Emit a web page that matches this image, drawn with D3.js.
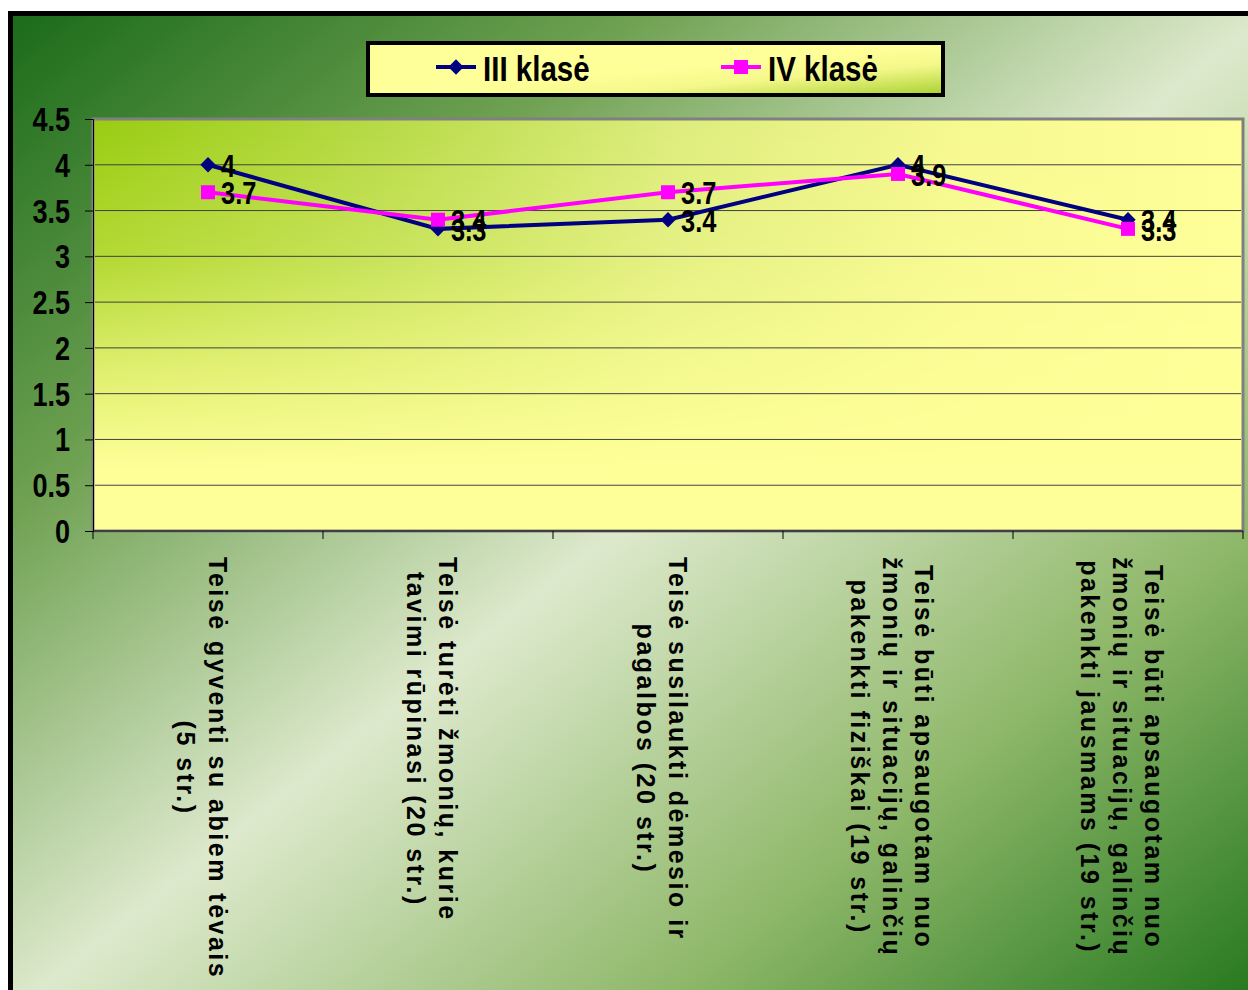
<!DOCTYPE html>
<html><head><meta charset="utf-8">
<script src="https://cdn.jsdelivr.net/npm/d3@7"></script>
<style>body{margin:0;background:#fff;} svg{display:block;}</style>
</head><body>
<script>
const categories = [
  "Teisė gyventi su abiem tėvais\n(5 str.)",
  "Teisė turėti žmonių, kurie\ntavimi rūpinasi (20 str.)",
  "Teisė susilaukti dėmesio ir\npagalbos (20 str.)",
  "Teisė būti apsaugotam nuo\nžmonių ir situacijų, galinčių\npakenkti fiziškai (19 str.)",
  "Teisė būti apsaugotam nuo\nžmonių ir situacijų, galinčių\npakenkti jausmams (19 str.)"
];
const seriesNames = ["III klasė", "IV klasė"];
const valuesIII = [4, 3.3, 3.4, 4, 3.4];
const valuesIV = [3.7, 3.4, 3.7, 3.9, 3.3];
const yTicks = [0, 0.5, 1, 1.5, 2, 2.5, 3, 3.5, 4, 4.5];

const W = 1248, H = 990;
const sans = "'Liberation Sans',Arial,sans-serif";
const NARROW = 0.82;

const svg = d3.select("body").append("svg").attr("width", W).attr("height", H);
const defs = svg.append("defs");

const bg = defs.append("linearGradient").attr("id","bg").attr("x1",0).attr("y1",0).attr("x2",1).attr("y2",1);
bg.append("stop").attr("offset","0").attr("stop-color","#1a6b1a");
bg.append("stop").attr("offset","0.25").attr("stop-color","#6fa152");
bg.append("stop").attr("offset","0.5").attr("stop-color","#dde9cc");
bg.append("stop").attr("offset","0.75").attr("stop-color","#8fb86a");
bg.append("stop").attr("offset","1").attr("stop-color","#1f741a");

const ph = defs.append("linearGradient").attr("id","ph").attr("x1",0).attr("y1",0).attr("x2",1).attr("y2",0);
ph.append("stop").attr("offset","0").attr("stop-color","#99cc11");
ph.append("stop").attr("offset","0.25").attr("stop-color","#b6da46");
ph.append("stop").attr("offset","0.5").attr("stop-color","#dcec7c");
ph.append("stop").attr("offset","0.75").attr("stop-color","#f6f890");
ph.append("stop").attr("offset","1").attr("stop-color","#ffff99");

const pv = defs.append("linearGradient").attr("id","pv").attr("x1",0).attr("y1",0).attr("x2",0).attr("y2",1);
pv.append("stop").attr("offset","0").attr("stop-color","#fff");
pv.append("stop").attr("offset","0.35").attr("stop-color","#bbb");
pv.append("stop").attr("offset","0.6").attr("stop-color","#555");
pv.append("stop").attr("offset","0.85").attr("stop-color","#000");
pv.append("stop").attr("offset","1").attr("stop-color","#000");

const lg = defs.append("linearGradient").attr("id","lg").attr("x1",0).attr("y1",0).attr("x2",1).attr("y2",1);
lg.append("stop").attr("offset","0").attr("stop-color","#ffff99");
lg.append("stop").attr("offset","0.5").attr("stop-color","#ffff99");
lg.append("stop").attr("offset","0.7").attr("stop-color","#f4f88a");
lg.append("stop").attr("offset","1").attr("stop-color","#a8d030");

// outer frame
svg.append("rect").attr("x",10.5).attr("y",13.5).attr("width",1260).attr("height",1000)
  .attr("fill","url(#bg)").attr("stroke","#000").attr("stroke-width",5);

const x = d3.scaleBand().domain(categories).range([93, 1243]);
const y = d3.scaleLinear().domain([0, 4.5]).range([531, 119]);

// plot area
const pa = {x:93, y:y(4.5), w:1150, h:y(0)-y(4.5)};
const mask = defs.append("mask").attr("id","pm").attr("maskUnits","userSpaceOnUse")
  .attr("x",pa.x).attr("y",pa.y).attr("width",pa.w).attr("height",pa.h);
mask.append("rect").attr("x",pa.x).attr("y",pa.y).attr("width",pa.w).attr("height",pa.h).attr("fill","url(#pv)");
svg.append("rect").attr("x",pa.x).attr("y",pa.y).attr("width",pa.w).attr("height",pa.h).attr("fill","#ffff99");
svg.append("rect").attr("x",pa.x).attr("y",pa.y).attr("width",pa.w).attr("height",pa.h).attr("fill","url(#ph)").attr("mask","url(#pm)");
svg.append("rect").attr("x",pa.x).attr("y",pa.y).attr("width",pa.w).attr("height",pa.h)
  .attr("fill","none").attr("stroke","#808080").attr("stroke-width",3);

// gridlines
svg.append("g").selectAll("line").data(yTicks.filter(d=>d>0 && d<4.5)).join("line")
  .attr("x1",95).attr("x2",1241).attr("y1",d=>y(d)).attr("y2",d=>y(d))
  .attr("stroke","#404040").attr("stroke-width",1);

// y axis
const yAxis = svg.append("g").attr("transform","translate(93,0)")
  .call(d3.axisLeft(y).tickValues(yTicks).tickSize(8).tickFormat(d3.format("")));
yAxis.select(".domain").attr("stroke","#000");
yAxis.selectAll(".tick line").attr("stroke","#000");
yAxis.selectAll(".tick text")
  .attr("x",0).attr("dy","0.35em")
  .attr("transform",`translate(-23,0) scale(${NARROW},1)`)
  .attr("font-family",sans).attr("font-weight","bold").attr("font-size",33).attr("fill","#000");

// x axis
svg.append("line").attr("x1",93).attr("x2",1243).attr("y1",y(0)).attr("y2",y(0)).attr("stroke","#000");
const bounds = categories.map(c=>x(c)).concat([x.range()[1]]);
svg.append("g").selectAll("line").data(bounds).join("line")
  .attr("x1",d=>d).attr("x2",d=>d).attr("y1",y(0)).attr("y2",y(0)+8).attr("stroke","#000");

// x labels
categories.forEach(c=>{
  const lines = c.split("\n");
  const n = lines.length;
  const g = svg.append("g").attr("transform",`translate(${x(c)+x.bandwidth()/2-6},557) rotate(90)`);
  const texts = g.selectAll("text").data(lines).join("text")
    .attr("font-family",sans).attr("font-weight","bold").attr("font-size",25)
    .attr("letter-spacing","2.5px").attr("fill","#000")
    .attr("text-anchor","middle")
    .attr("y",(d,i)=>(i-(n-1)/2)*32).attr("dy","0.35em")
    .text(d=>d);
  let L = 0; texts.each(function(){ L = Math.max(L, this.getComputedTextLength()); });
  texts.attr("x", L/2);
});

const cx = c => x(c) + x.bandwidth()/2;
const line = d3.line().x((d,i)=>cx(categories[i])).y(d=>y(d));

// series III
svg.append("path").datum(valuesIII).attr("d",line).attr("fill","none").attr("stroke","#000080").attr("stroke-width",4);
svg.append("g").selectAll("path").data(valuesIII).join("path")
  .attr("d",d3.symbol(d3.symbolDiamond2, 150))
  .attr("transform",(d,i)=>`translate(${cx(categories[i])},${y(d)})`).attr("fill","#000080");
// series IV
svg.append("path").datum(valuesIV).attr("d",line).attr("fill","none").attr("stroke","#ff00ff").attr("stroke-width",4);
svg.append("g").selectAll("rect").data(valuesIV).join("rect")
  .attr("x",(d,i)=>cx(categories[i])-7).attr("y",d=>y(d)-7).attr("width",14).attr("height",14).attr("fill","#ff00ff");

// data labels
[valuesIII, valuesIV].forEach(vals=>{
  svg.append("g").selectAll("text").data(vals).join("text")
    .attr("transform",(d,i)=>`translate(${cx(categories[i])+13},${y(d)+1}) scale(${NARROW},1)`)
    .attr("dy","0.35em")
    .attr("font-family",sans).attr("font-weight","bold").attr("font-size",31).attr("fill","#000")
    .text(d=>d3.format("")(d));
});

// legend
svg.append("rect").attr("x",368).attr("y",43).attr("width",575).attr("height",52)
  .attr("fill","url(#lg)").attr("stroke","#000").attr("stroke-width",4);
const leg = [
  {name: seriesNames[0], color:"#000080", x0:436, sym:"d"},
  {name: seriesNames[1], color:"#ff00ff", x0:721, sym:"s"}
];
leg.forEach(l=>{
  svg.append("line").attr("x1",l.x0).attr("x2",l.x0+40).attr("y1",67).attr("y2",67).attr("stroke",l.color).attr("stroke-width",4);
  if(l.sym==="d"){
    svg.append("path").attr("d",d3.symbol(d3.symbolDiamond2,150)).attr("transform",`translate(${l.x0+20},67)`).attr("fill",l.color);
  } else {
    svg.append("rect").attr("x",l.x0+13).attr("y",60).attr("width",14).attr("height",14).attr("fill",l.color);
  }
  svg.append("text").attr("transform",`translate(${l.x0+47},68) scale(${NARROW},1)`).attr("dy","0.35em")
    .attr("font-family",sans).attr("font-weight","bold").attr("font-size",36).attr("fill","#000").text(l.name);
});
</script>
</body></html>
